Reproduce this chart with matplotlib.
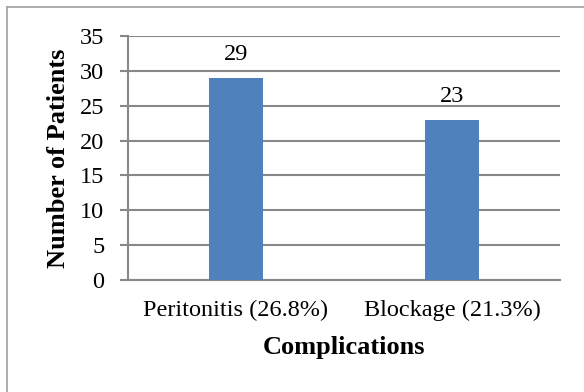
import matplotlib
matplotlib.use("Agg")
import matplotlib.pyplot as plt
from matplotlib.lines import Line2D

# =========================================================
# DADOS
# =========================================================

categorias = ["Peritonitis (26.8%)", "Blockage (21.3%)"]
pacientes = [29, 23]
y_ticks = [0, 5, 10, 15, 20, 25, 30, 35]

COR_BARRA = "#4F81BD"
COR_GRADE = "#888888"

plt.rcParams["font.family"] = ["Liberation Serif", "DejaVu Serif"]

# =========================================================
# GRAFICO
# =========================================================

fig = plt.figure(figsize=(5.84, 3.92), dpi=100)
ax = fig.add_axes([128 / 584, 1 - 280 / 392, 432 / 584, 244 / 392])

x = list(range(len(categorias)))
ax.bar(x, pacientes, width=0.25, color=COR_BARRA, zorder=3)

for xi, v in zip(x, pacientes):
    ax.annotate(str(v), (xi, v), xytext=(0, 9), textcoords="offset points",
                ha="center", va="bottom", fontsize=17.5)

ax.set_xlim(-0.5, len(categorias) - 0.5)
ax.set_ylim(0, 35)
ax.set_yticks(y_ticks)
ax.set_xticks(x)
ax.set_xticklabels(categorias, fontsize=17.5)
ax.tick_params(axis="y", labelsize=17.5, length=6, width=1.5, color=COR_GRADE, pad=11)
ax.tick_params(axis="x", length=0, pad=14)

ax.grid(axis="y", color=COR_GRADE, linewidth=1.5, zorder=0)
for lado in ["top", "right"]:
    ax.spines[lado].set_visible(False)
ax.spines["left"].set_color(COR_GRADE)
ax.spines["left"].set_linewidth(1.5)
ax.spines["bottom"].set_color(COR_GRADE)
ax.spines["bottom"].set_linewidth(1.5)

ax.set_ylabel("Number of Patients", fontsize=19, fontweight="bold", labelpad=7)
ax.set_xlabel("Complications", fontsize=19, fontweight="bold", labelpad=11)

# borda do quadro (so topo e esquerda aparecem)
fig.add_artist(Line2D([7 / 584, 1], [1 - 7 / 392, 1 - 7 / 392],
                      transform=fig.transFigure, color="#A0A0A0", linewidth=1.2))
fig.add_artist(Line2D([7 / 584, 7 / 584], [0, 1 - 7 / 392],
                      transform=fig.transFigure, color="#A0A0A0", linewidth=1.2))

fig.savefig("out.png", dpi=100, facecolor="white")
plt.close(fig)
